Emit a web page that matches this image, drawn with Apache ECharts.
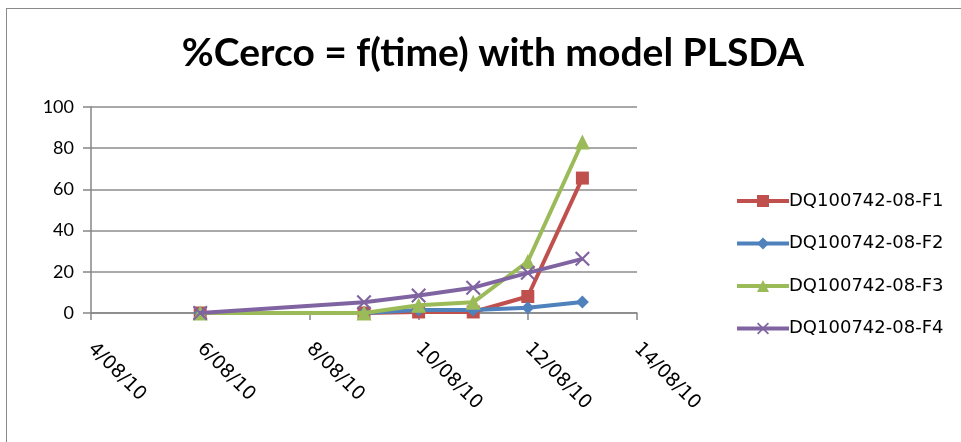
<!DOCTYPE html>
<html>
<head>
<meta charset="utf-8">
<script src="https://cdn.jsdelivr.net/npm/echarts@6/dist/echarts.min.js"></script>
<style>
  html, body { margin: 0; padding: 0; background: #fff; }
  #frame { position: absolute; left: 6px; top: 8px; width: 960px; height: 440px;
           border-top: 1.5px solid #8a8a8a; border-left: 1.5px solid #8a8a8a; }
  #chart { position: absolute; left: 0; top: 0; width: 961px; height: 442px; }
</style>
</head>
<body>
<div id="frame"></div>
<div id="chart"></div>
<script>
// Observation dates (day of August 2010) and % Cerco per sample
const days = [6, 9, 10, 11, 12, 13];
const seriesNames = ['DQ100742-08-F1', 'DQ100742-08-F2', 'DQ100742-08-F3', 'DQ100742-08-F4'];
const f1 = [0, 0, 0.5, 0.5, 8, 65.5];
const f2 = [0, 0, 1.5, 1.5, 2.5, 5.3];
const f3 = [0, 0, 3.8, 5.2, 25, 83];
const f4 = [0, 5.2, 8.5, 12.3, 19.5, 26.3];
const yTicks = [0, 20, 40, 60, 80, 100];
const xTickDays = [4, 6, 8, 10, 12, 14];

const colors = ['#C0504D', '#4F81BD', '#9BBB59', '#8064A2'];
const symbols = [
  'rect',
  'diamond',
  'triangle',
  'path://M0,1L1,0L5,4L9,0L10,1L6,5L10,9L9,10L5,6L1,10L0,9L4,5Z'
];
const symbolSizes = [13, 13, 15, 15];
const values = [f1, f2, f3, f4];

const titleFont = 'Lato, "Open Sans", sans-serif';
const wideFont = '"DejaVu Sans", Verdana, sans-serif';

const chart = echarts.init(document.getElementById('chart'), null, { renderer: 'canvas' });

chart.setOption({
  animation: false,
  backgroundColor: 'transparent',
  title: {
    text: '%Cerco = f(time) with model PLSDA',
    left: 488,
    textAlign: 'center',
    top: 29,
    textStyle: { fontFamily: titleFont, fontSize: 39, fontWeight: 'bold', color: '#000' }
  },
  grid: { left: 91, right: 324, top: 107, bottom: 129, containLabel: false },
  legend: {
    orient: 'vertical',
    left: 730,
    top: 186,
    itemGap: 22.5,
    itemWidth: 52,
    itemHeight: 15,
    lineStyle: { width: 4 },
    textStyle: { fontFamily: wideFont, fontSize: 18, lineHeight: 20, color: '#000', padding: [0, 0, 0, -5] },
    data: seriesNames
  },
  xAxis: {
    type: 'value',
    min: xTickDays[0],
    max: xTickDays[xTickDays.length - 1],
    interval: 2,
    axisLine: { lineStyle: { color: '#868686', width: 1.5 } },
    axisTick: { show: true, length: 7, lineStyle: { color: '#868686', width: 1.5 } },
    splitLine: { show: false },
    axisLabel: {
      rotate: -45,
      margin: 33,
      fontFamily: wideFont,
      fontSize: 19,
      color: '#000',
      formatter: v => v + '/08/10'
    }
  },
  yAxis: {
    type: 'value',
    min: yTicks[0],
    max: yTicks[yTicks.length - 1],
    interval: 20,
    axisLine: { show: true, lineStyle: { color: '#868686', width: 1.5 } },
    axisTick: { show: true, length: 8, lineStyle: { color: '#868686', width: 1.5 } },
    splitLine: { show: true, lineStyle: { color: '#8c8c8c', width: 1.5 } },
    axisLabel: { margin: 17, fontFamily: titleFont, fontSize: 18, color: '#000' }
  },
  series: seriesNames.map((name, i) => ({
    name,
    type: 'line',
    data: days.map((d, j) => [d, values[i][j]]),
    symbol: symbols[i],
    symbolSize: symbolSizes[i],
    showAllSymbol: true,
    color: colors[i],
    lineStyle: { color: colors[i], width: 4 },
    itemStyle: { color: colors[i] },
    z: 2 + i
  }))
});
</script>
</body>
</html>
